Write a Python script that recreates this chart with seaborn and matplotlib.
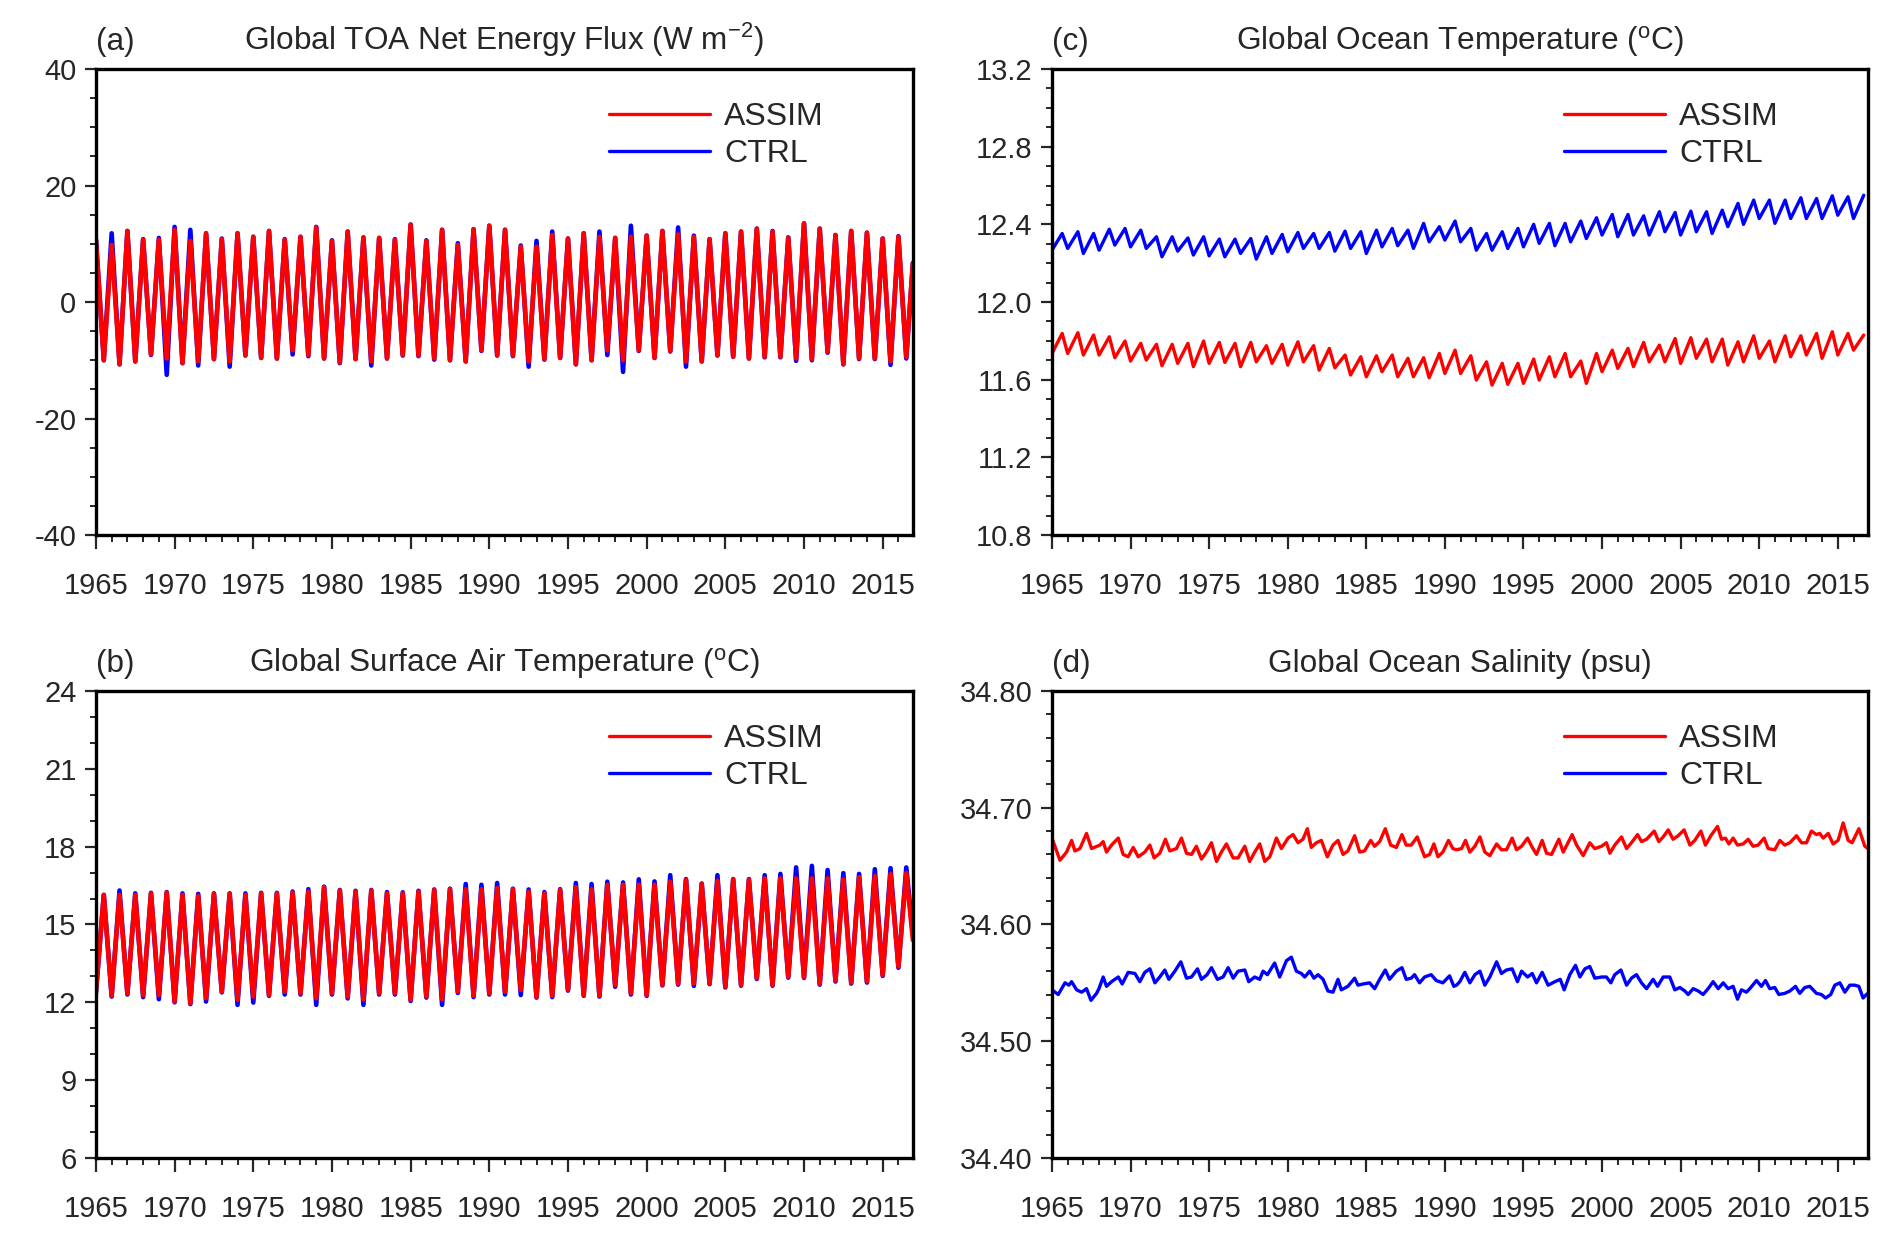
import matplotlib
matplotlib.use("Agg")
import matplotlib.pyplot as plt
from matplotlib.ticker import MultipleLocator, FormatStrFormatter
import numpy as np
import pandas as pd
import seaborn as sns

# ---------------- data ----------------
YEARS = np.arange(1965, 2017)

# (a) TOA net flux: January maximum / July minimum of each year
toa_assim_max = [10.7, 9.8, 12.2, 10.7, 10.7, 12.4, 10.5, 11.8, 10.8, 11.8,
                 11.2, 12.2, 10.7, 11.2, 12.8, 10.5, 12.1, 11.0, 11.0, 10.7,
                 13.3, 10.5, 12.4, 9.8, 12.5, 13.1, 12.4, 9.5, 9.5, 11.5,
                 10.9, 11.8, 11.2, 11.0, 11.2, 11.4, 12.2, 11.6, 11.2, 10.8,
                 11.8, 12.1, 12.6, 12.1, 11.0, 13.5, 12.6, 11.5, 12.2, 11.9,
                 10.9, 11.2]
toa_assim_min = [-10.0, -10.7, -10.2, -9.0, -9.7, -10.5, -10.2, -9.8, -10.2, -9.1,
                 -9.6, -9.7, -8.3, -9.1, -9.7, -10.4, -9.8, -10.2, -9.7, -9.1,
                 -9.2, -9.7, -10.0, -10.2, -8.3, -9.1, -9.2, -10.2, -9.8, -9.6,
                 -10.7, -10.0, -8.3, -10.0, -8.3, -9.6, -8.4, -10.2, -10.2, -9.1,
                 -9.4, -9.7, -9.4, -9.4, -9.7, -9.8, -8.5, -10.7, -9.7, -9.7,
                 -10.2, -9.4]
toa_ctrl_max = [10.8, 11.8, 12.2, 10.8, 11.0, 12.9, 12.4, 11.8, 10.9, 11.8,
                11.2, 12.2, 10.8, 11.2, 12.9, 10.6, 12.1, 11.1, 11.0, 10.8,
                13.3, 10.6, 12.4, 10.1, 12.5, 13.1, 12.4, 9.7, 10.5, 12.1,
                10.9, 11.8, 12.1, 11.0, 13.1, 11.4, 12.2, 12.8, 11.4, 10.8,
                11.8, 12.1, 12.6, 12.2, 11.1, 13.5, 12.6, 11.5, 12.2, 11.9,
                10.9, 11.3]
toa_ctrl_min = [-10.0, -10.7, -10.2, -9.1, -12.5, -10.5, -10.9, -9.8, -11.1, -9.2,
                -9.6, -9.7, -9.0, -9.3, -9.7, -10.5, -9.8, -10.9, -9.7, -9.2,
                -9.3, -9.9, -10.0, -10.2, -8.4, -9.2, -9.3, -11.1, -9.9, -9.6,
                -10.7, -10.0, -9.1, -12.0, -8.4, -9.6, -8.5, -11.1, -10.2, -9.2,
                -9.4, -9.7, -9.5, -9.5, -10.1, -10.0, -8.7, -10.7, -9.8, -9.8,
                -10.8, -9.7]
toa_dec2016 = [6.7, 6.7]  # ASSIM, CTRL

# (b) surface air temperature: July maximum / January minimum
sat_assim_max = [16.14, 16.14, 16.14, 16.20, 16.23, 16.14, 16.10, 16.18, 16.18, 16.14,
                 16.20, 16.20, 16.23, 16.27, 16.44, 16.31, 16.27, 16.31, 16.20, 16.20,
                 16.27, 16.33, 16.36, 16.36, 16.36, 16.40, 16.36, 16.27, 16.20, 16.33,
                 16.44, 16.36, 16.53, 16.53, 16.53, 16.53, 16.65, 16.72, 16.56, 16.69,
                 16.74, 16.72, 16.78, 16.78, 16.78, 16.78, 16.78, 16.74, 16.82, 16.87,
                 16.95, 16.98]
sat_assim_min = [12.40, 12.25, 12.35, 12.28, 12.28, 12.03, 11.96, 12.16, 12.41, 12.10,
                 12.22, 12.28, 12.41, 12.35, 12.16, 12.35, 12.22, 12.10, 12.35, 12.35,
                 12.10, 12.22, 12.12, 12.41, 12.25, 12.35, 12.41, 12.48, 12.20, 12.25,
                 12.48, 12.28, 12.25, 12.67, 12.35, 12.28, 12.67, 12.71, 12.73, 12.73,
                 12.60, 12.67, 12.93, 12.67, 12.99, 12.97, 12.71, 12.84, 12.76, 12.80,
                 13.06, 13.38]
sat_ctrl_max = [16.14, 16.31, 16.20, 16.22, 16.25, 16.20, 16.18, 16.20, 16.20, 16.20,
                16.22, 16.22, 16.27, 16.36, 16.46, 16.33, 16.30, 16.33, 16.25, 16.24,
                16.30, 16.35, 16.38, 16.56, 16.53, 16.60, 16.38, 16.35, 16.25, 16.36,
                16.60, 16.56, 16.65, 16.62, 16.74, 16.66, 16.90, 16.75, 16.58, 16.90,
                16.75, 16.75, 16.90, 16.95, 17.20, 17.26, 17.10, 16.98, 16.95, 17.13,
                17.17, 17.20]
sat_ctrl_min = [12.35, 12.22, 12.30, 12.20, 12.12, 12.00, 11.93, 12.03, 12.38, 11.90,
                11.99, 12.25, 12.30, 12.30, 11.90, 12.30, 12.15, 11.90, 12.30, 12.30,
                12.05, 12.18, 11.90, 12.36, 12.20, 12.30, 12.30, 12.28, 12.18, 12.20,
                12.45, 12.25, 12.22, 12.60, 12.30, 12.25, 12.65, 12.68, 12.63, 12.70,
                12.57, 12.64, 12.90, 12.64, 12.95, 12.94, 12.68, 12.80, 12.72, 12.76,
                13.02, 13.33]
sat_dec2016 = [14.4, 14.6]

# (c) ocean temperature: late-summer maximum / January minimum
ot_assim_max = [11.838, 11.842, 11.830, 11.821, 11.799, 11.787, 11.782, 11.782, 11.787, 11.799,
                11.792, 11.787, 11.792, 11.775, 11.782, 11.795, 11.775, 11.761, 11.727, 11.718,
                11.723, 11.727, 11.710, 11.713, 11.735, 11.752, 11.723, 11.692, 11.684, 11.684,
                11.706, 11.718, 11.735, 11.696, 11.735, 11.752, 11.761, 11.792, 11.778, 11.812,
                11.816, 11.809, 11.809, 11.795, 11.826, 11.799, 11.826, 11.826, 11.838, 11.847,
                11.838, 11.830]
ot_assim_min = [11.735, 11.735, 11.727, 11.727, 11.713, 11.696, 11.701, 11.672, 11.684, 11.667,
                11.684, 11.689, 11.667, 11.692, 11.684, 11.675, 11.692, 11.649, 11.661, 11.624,
                11.615, 11.641, 11.615, 11.615, 11.610, 11.632, 11.632, 11.598, 11.572, 11.576,
                11.581, 11.598, 11.615, 11.615, 11.581, 11.641, 11.658, 11.667, 11.692, 11.692,
                11.684, 11.710, 11.692, 11.675, 11.692, 11.710, 11.692, 11.718, 11.727, 11.710,
                11.727, 11.752]
ot_ctrl_max = [12.353, 12.362, 12.353, 12.375, 12.379, 12.370, 12.336, 12.336, 12.330, 12.336,
               12.324, 12.324, 12.327, 12.336, 12.348, 12.358, 12.353, 12.358, 12.365, 12.362,
               12.370, 12.379, 12.370, 12.405, 12.388, 12.417, 12.379, 12.353, 12.362, 12.379,
               12.400, 12.405, 12.405, 12.417, 12.434, 12.451, 12.451, 12.444, 12.465, 12.461,
               12.468, 12.465, 12.473, 12.508, 12.525, 12.525, 12.525, 12.537, 12.533, 12.547,
               12.542, 12.550]
ot_ctrl_min = [12.267, 12.276, 12.250, 12.267, 12.293, 12.284, 12.276, 12.233, 12.262, 12.242,
               12.238, 12.233, 12.250, 12.221, 12.250, 12.259, 12.276, 12.276, 12.262, 12.276,
               12.250, 12.284, 12.290, 12.276, 12.310, 12.319, 12.310, 12.267, 12.267, 12.276,
               12.284, 12.302, 12.290, 12.310, 12.327, 12.345, 12.336, 12.345, 12.345, 12.362,
               12.345, 12.362, 12.353, 12.388, 12.400, 12.430, 12.405, 12.430, 12.430, 12.430,
               12.447, 12.430]

# (d) ocean salinity: turning points of the noisy monthly curves
sal_assim_t = [1965.00, 1965.51, 1965.93, 1966.25, 1966.46, 1966.78, 1967.20, 1967.52, 1968.05, 1968.26,
               1968.47, 1968.79, 1969.22, 1969.53, 1969.85, 1970.17, 1970.49, 1970.91, 1971.23, 1971.50,
               1971.86, 1972.22, 1972.50, 1972.92, 1973.24, 1973.56, 1973.88, 1974.19, 1974.51, 1974.83,
               1975.15, 1975.47, 1975.78, 1976.10, 1976.53, 1976.84, 1977.27, 1977.58, 1977.90, 1978.22,
               1978.54, 1978.86, 1979.28, 1979.60, 1980.02, 1980.34, 1980.66, 1980.97, 1981.25, 1981.50,
               1981.82, 1982.14, 1982.52, 1982.88, 1983.20, 1983.52, 1983.83, 1984.26, 1984.58, 1984.89,
               1985.28, 1985.53, 1985.85, 1986.21, 1986.55, 1986.91, 1987.27, 1987.54, 1987.86, 1988.24,
               1988.71, 1989.03, 1989.30, 1989.56, 1989.87, 1990.23, 1990.51,
               1990.74, 1991.06, 1991.31, 1991.59, 1991.91, 1992.23, 1992.54, 1992.86, 1993.29, 1993.60,
               1993.92, 1994.28, 1994.56, 1994.88, 1995.26, 1995.56, 1995.83, 1996.19, 1996.47, 1996.79,
               1997.25, 1997.53, 1998.10, 1998.38, 1998.80, 1999.22, 1999.54, 1999.97, 2000.28, 2000.50,
               2000.81, 2001.24, 2001.56, 2001.87, 2002.26, 2002.51, 2002.83, 2003.32, 2003.61, 2003.89,
               2004.21, 2004.52, 2004.84, 2005.22, 2005.59, 2005.90, 2006.29, 2006.58, 2006.92, 2007.35,
               2007.60, 2007.85, 2008.07, 2008.34, 2008.62, 2008.98, 2009.30, 2009.61, 2009.93, 2010.31,
               2010.57, 2010.99, 2011.31, 2011.63, 2011.95, 2012.37, 2012.69, 2013.01, 2013.32, 2013.64,
               2013.85, 2014.07, 2014.39, 2014.70, 2015.02, 2015.34, 2015.66, 2015.91, 2016.34, 2016.72,
               2016.92]
sal_assim = [34.674, 34.655, 34.662, 34.672, 34.663, 34.665, 34.678, 34.665, 34.668, 34.671,
             34.662, 34.668, 34.674, 34.660, 34.658, 34.666, 34.658, 34.662, 34.668, 34.657,
             34.661, 34.673, 34.663, 34.665, 34.674, 34.661, 34.660, 34.667, 34.656, 34.662,
             34.670, 34.654, 34.662, 34.669, 34.657, 34.657, 34.667, 34.654, 34.662, 34.669,
             34.654, 34.658, 34.674, 34.665, 34.674, 34.677, 34.670, 34.673, 34.682, 34.666,
             34.670, 34.672, 34.658, 34.668, 34.672, 34.660, 34.663, 34.676, 34.662, 34.663,
             34.672, 34.667, 34.671, 34.682, 34.668, 34.666, 34.677, 34.668, 34.668, 34.675,
             34.658, 34.660, 34.669, 34.658, 34.662, 34.672, 34.665,
             34.664, 34.665, 34.672, 34.662, 34.667, 34.675, 34.662, 34.659, 34.669, 34.664,
             34.664, 34.674, 34.664, 34.667, 34.674, 34.666, 34.660, 34.672, 34.661, 34.660,
             34.673, 34.662, 34.677, 34.668, 34.659, 34.670, 34.665, 34.667, 34.670, 34.661,
             34.668, 34.675, 34.665, 34.670, 34.677, 34.671, 34.673, 34.680, 34.671, 34.675,
             34.681, 34.673, 34.676, 34.681, 34.668, 34.672, 34.680, 34.668, 34.676, 34.684,
             34.673, 34.674, 34.669, 34.674, 34.668, 34.669, 34.673, 34.667, 34.668, 34.674,
             34.665, 34.664, 34.672, 34.668, 34.670, 34.676, 34.670, 34.670, 34.680, 34.677,
             34.678, 34.674, 34.678, 34.669, 34.672, 34.687, 34.672, 34.670, 34.682, 34.667,
             34.665]
sal_ctrl_t = [1965.00, 1965.40, 1965.83, 1966.08, 1966.25, 1966.57, 1966.89, 1967.20, 1967.48, 1967.84,
              1967.99, 1968.26, 1968.47, 1968.79, 1969.22, 1969.47, 1969.85, 1970.28, 1970.59, 1970.91,
              1971.23, 1971.55, 1971.86, 1972.18, 1972.44, 1972.82, 1973.20, 1973.56, 1973.88, 1974.26,
              1974.51, 1974.87, 1975.15, 1975.53, 1975.89, 1976.21, 1976.53, 1976.84, 1977.27, 1977.52,
              1977.90, 1978.22, 1978.43, 1978.71, 1979.17, 1979.49, 1979.92, 1980.23, 1980.55, 1980.87,
              1981.08, 1981.40, 1981.67, 1981.93, 1982.25, 1982.56, 1982.88, 1983.20, 1983.41, 1983.83,
              1984.26, 1984.47, 1984.79, 1985.21, 1985.53, 1985.85, 1986.21, 1986.48, 1986.91, 1987.27,
              1987.54, 1987.86, 1988.07, 1988.39, 1988.71, 1989.13, 1989.45, 1989.87, 1990.30, 1990.57,
              1990.74, 1990.95, 1991.27, 1991.59, 1991.91, 1992.23, 1992.54, 1992.86, 1993.29, 1993.60,
              1993.92, 1994.28, 1994.62, 1994.88, 1995.26, 1995.56, 1995.83, 1996.19, 1996.57, 1997.00,
              1997.34, 1997.59, 1997.95, 1998.31, 1998.59, 1998.91, 1999.22, 1999.54, 1999.97, 2000.28,
              2000.56, 2000.81, 2001.20, 2001.56, 2001.87, 2002.19, 2002.51, 2002.83, 2003.25, 2003.53,
              2003.89, 2004.31, 2004.63, 2004.95, 2005.27, 2005.48, 2005.80, 2006.12, 2006.43, 2006.75,
              2007.07, 2007.39, 2007.71, 2008.02, 2008.34, 2008.62, 2008.87, 2009.19, 2009.40, 2009.83,
              2010.14, 2010.40, 2010.67, 2010.99, 2011.25, 2011.63, 2011.95, 2012.31, 2012.58, 2012.90,
              2013.22, 2013.64, 2013.96, 2014.22, 2014.55, 2014.81, 2015.13, 2015.45, 2015.76, 2016.08,
              2016.34, 2016.61, 2016.82, 2016.92]
sal_ctrl = [34.544, 34.540, 34.550, 34.548, 34.551, 34.544, 34.542, 34.545, 34.535, 34.541,
            34.545, 34.555, 34.547, 34.551, 34.555, 34.549, 34.559, 34.558, 34.551, 34.559,
            34.562, 34.550, 34.555, 34.561, 34.553, 34.560, 34.568, 34.554, 34.555, 34.562,
            34.553, 34.557, 34.563, 34.553, 34.555, 34.563, 34.554, 34.560, 34.561, 34.551,
            34.555, 34.553, 34.560, 34.557, 34.567, 34.555, 34.569, 34.572, 34.560, 34.558,
            34.555, 34.560, 34.554, 34.557, 34.553, 34.543, 34.542, 34.553, 34.544, 34.547,
            34.554, 34.548, 34.549, 34.550, 34.545, 34.553, 34.561, 34.553, 34.560, 34.563,
            34.553, 34.554, 34.557, 34.550, 34.555, 34.557, 34.552, 34.550, 34.556, 34.547,
            34.548, 34.551, 34.559, 34.550, 34.557, 34.560, 34.548, 34.555, 34.568, 34.558,
            34.561, 34.562, 34.551, 34.560, 34.555, 34.558, 34.550, 34.559, 34.548, 34.551,
            34.553, 34.544, 34.557, 34.565, 34.555, 34.562, 34.564, 34.554, 34.555, 34.555,
            34.550, 34.557, 34.561, 34.548, 34.554, 34.557, 34.550, 34.545, 34.553, 34.547,
            34.555, 34.555, 34.544, 34.546, 34.543, 34.540, 34.545, 34.543, 34.540, 34.545,
            34.551, 34.545, 34.550, 34.545, 34.547, 34.536, 34.544, 34.542, 34.545, 34.552,
            34.547, 34.552, 34.545, 34.546, 34.540, 34.541, 34.543, 34.547, 34.541, 34.546,
            34.547, 34.541, 34.540, 34.537, 34.540, 34.548, 34.550, 34.542, 34.548, 34.548,
            34.547, 34.537, 34.540, 34.541]

TITLES = ["Global TOA Net Energy Flux (W m$^{-2}$)",
          "Global Surface Air Temperature ($^{\\rm o}$C)",
          "Global Ocean Temperature ($^{\\rm o}$C)",
          "Global Ocean Salinity (psu)"]
LABELS = ["(a)", "(b)", "(c)", "(d)"]

# month of the annual extremes (fraction of year)
JAN, JUL, SEP = 0.0, 0.5, 0.65
END = 2016.92


def cycle_frame(maxima, minima, t_max, t_min, dec_value=None):
    t = np.concatenate([YEARS + t_max, YEARS + t_min])
    v = np.concatenate([maxima, minima])
    df = pd.DataFrame({"time": t, "value": v})
    if dec_value is not None:
        df.loc[len(df)] = [END, dec_value]
    return df.sort_values("time")


panels = [
    (cycle_frame(toa_assim_max, toa_assim_min, JAN, JUL, toa_dec2016[0]),
     cycle_frame(toa_ctrl_max, toa_ctrl_min, JAN, JUL, toa_dec2016[1])),
    (cycle_frame(sat_assim_max, sat_assim_min, JUL, JAN, sat_dec2016[0]),
     cycle_frame(sat_ctrl_max, sat_ctrl_min, JUL, JAN, sat_dec2016[1])),
    (cycle_frame(ot_assim_max, ot_assim_min, SEP, JAN),
     cycle_frame(ot_ctrl_max, ot_ctrl_min, SEP, JAN)),
    (pd.DataFrame({"time": sal_assim_t, "value": sal_assim}),
     pd.DataFrame({"time": sal_ctrl_t, "value": sal_ctrl})),
]

ylims = [(-40, 40), (6, 24), (10.8, 13.2), (34.40, 34.80)]
ymajor = [20, 3, 0.4, 0.1]
yminor = [5, 1, 0.1, 0.02]
yfmt = ["%d", "%d", "%.1f", "%.2f"]
lws = [3.3, 3.3, 2.4, 2.4]

# ---------------- style ----------------
sns.set_style("ticks")
plt.rcParams["font.family"] = ["Liberation Sans", "DejaVu Sans"]
plt.rcParams["mathtext.fontset"] = "custom"
plt.rcParams["mathtext.rm"] = "Liberation Sans"
plt.rcParams["mathtext.it"] = "Liberation Sans:italic"

fig = plt.figure(figsize=(18.92, 12.37), dpi=100)
rects = [[0.0507, 0.5675, 0.4318, 0.3767],
         [0.0507, 0.0639, 0.4318, 0.3775],
         [0.5560, 0.5675, 0.4313, 0.3767],
         [0.5560, 0.0639, 0.4313, 0.3775]]

for i, rect in enumerate(rects):
    ax = fig.add_axes(rect)
    assim, ctrl = panels[i]
    sns.lineplot(data=ctrl, x="time", y="value", ax=ax, color="#0000FF",
                 lw=lws[i], label="CTRL", estimator=None, errorbar=None,
                 solid_joinstyle="round")
    sns.lineplot(data=assim, x="time", y="value", ax=ax, color="#FF0000",
                 lw=lws[i], label="ASSIM", estimator=None, errorbar=None,
                 solid_joinstyle="round")

    ax.set_xlim(1965, END)
    ax.set_ylim(*ylims[i])
    ax.set_xlabel("")
    ax.set_ylabel("")
    ax.xaxis.set_major_locator(MultipleLocator(5))
    ax.xaxis.set_minor_locator(MultipleLocator(1))
    ax.yaxis.set_major_locator(MultipleLocator(ymajor[i]))
    ax.yaxis.set_minor_locator(MultipleLocator(yminor[i]))
    ax.yaxis.set_major_formatter(FormatStrFormatter(yfmt[i]))
    ax.xaxis.set_major_formatter(FormatStrFormatter("%d"))

    ax.tick_params(axis="x", which="major", direction="out", length=10, width=1.6,
                   labelsize=21, pad=16.5)
    ax.tick_params(axis="x", which="minor", direction="out", length=5, width=1.4)
    ax.tick_params(axis="y", which="major", direction="out", length=8, width=1.6,
                   labelsize=21, pad=6)
    ax.tick_params(axis="y", which="minor", direction="out", length=4.5, width=1.4)
    for sp in ax.spines.values():
        sp.set_visible(True)
        sp.set_linewidth(2.4)
        sp.set_color("black")

    ax.set_title(TITLES[i], fontsize=22.7, pad=13.5)
    ax.set_title(LABELS[i], loc="left", fontsize=22.7, pad=13.5)

    h, l = ax.get_legend_handles_labels()
    leg = ax.legend(h[::-1], l[::-1], loc="upper left", bbox_to_anchor=(0.628, 0.929),
                    frameon=False, fontsize=23, handlelength=3.15, handletextpad=0.45,
                    labelspacing=0.22, borderaxespad=0, borderpad=0)
    for line in leg.get_lines():
        line.set_linewidth(2.4)

fig.savefig("out.png", dpi=100)
